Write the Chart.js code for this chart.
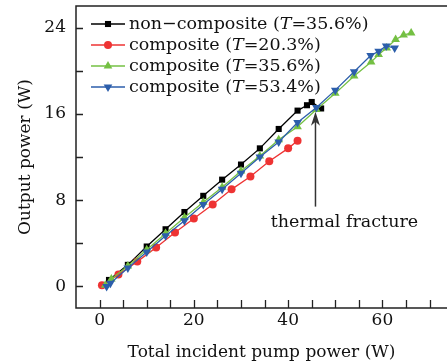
<!DOCTYPE html>
<html>
<head>
<meta charset="utf-8">
<script src="https://cdn.jsdelivr.net/npm/chart.js@4/dist/chart.umd.min.js"></script>
<style>
body { margin: 0; background: #fff; }
</style>
</head>
<body>
<canvas id="myChart" width="447" height="364"></canvas>
<script>
// pump power (W) / output power (W)
const xNonComp = [2, 6, 10, 14, 18, 22, 26, 30, 34, 38, 42, 44, 45, 47];
const yNonComp = [0.6, 2.0, 3.7, 5.3, 6.9, 8.4, 9.9, 11.3, 12.8, 14.6, 16.3, 16.8, 17.1, 16.5];

const xComp20 = [0.5, 4, 8, 12, 16, 20, 24, 28, 32, 36, 40, 42];
const yComp20 = [0.1, 1.1, 2.3, 3.6, 5.0, 6.3, 7.6, 9.0, 10.2, 11.6, 12.8, 13.5];

const xComp35 = [1.2, 2.5, 6, 10, 14, 18, 22, 26, 30, 34, 38, 42, 46, 50, 54, 57.6, 59.2, 60.9, 62.8, 64.5, 66.1];
const yComp35 = [0.1, 0.7, 1.9, 3.4, 4.9, 6.4, 7.8, 9.2, 10.7, 12.1, 13.6, 14.8, 16.4, 17.9, 19.5, 20.8, 21.5, 22.1, 22.9, 23.3, 23.5];

const xComp53 = [1.5, 2.3, 6, 10, 14, 18, 22, 26, 30, 34, 38, 42, 46, 50, 54, 57.5, 59.2, 60.8, 62.6];
const yComp53 = [0.0, 0.3, 1.7, 3.2, 4.7, 6.1, 7.6, 9.0, 10.5, 12.0, 13.4, 15.2, 16.6, 18.2, 19.9, 21.4, 21.8, 22.3, 22.1];

const seriesNames = ["non\u2212composite", "composite", "composite", "composite"];
const seriesT = ["35.6%", "20.3%", "35.6%", "53.4%"];

const xTicks = [0, 5, 10, 15, 20, 25, 30, 35, 40, 45, 50, 55, 60, 65, 70];
const yTicks = [0, 4, 8, 12, 16, 20, 24];

// arrow: x, bottom y, tip y (data units)
const arrowAt = [45.8, 7.4, 16.2];
const noteText = "thermal fracture";

const FONT = "'DejaVu Serif', serif";
const colors = ["#000000", "#ee3333", "#74c043", "#2c5eab"];
const shapes = ["rect", "circle", "triangle", "triangle"];

function pts(xs, ys) {
  return xs.map((x, i) => ({ x: x, y: ys[i] }));
}

const chartData = {
  datasets: [
    { data: pts(xNonComp, yNonComp), order: 4, pointRadius: 4.3 },
    { data: pts(xComp20, yComp20), order: 3, pointRadius: 4 },
    { data: pts(xComp35, yComp35), order: 2, pointRadius: 5 },
    { data: pts(xComp53, yComp53), order: 1, pointRadius: 5, pointRotation: 180 },
  ].map((d, i) => Object.assign({
    label: seriesNames[i] + " (T=" + seriesT[i] + ")",
    borderColor: colors[i],
    backgroundColor: colors[i],
    pointBackgroundColor: colors[i],
    pointBorderColor: colors[i],
    pointBorderWidth: 0,
    pointStyle: shapes[i],
    borderWidth: 1.3,
    showLine: true,
    tension: 0,
  }, d)),
};

// frame, inward ticks, x labels, legend and the annotation
const extras = {
  id: "extras",
  afterDraw(chart) {
    const c = chart.ctx;
    const a = chart.chartArea;
    const xs = chart.scales.x, ys = chart.scales.y;
    c.save();
    c.strokeStyle = "#222";
    c.lineWidth = 1.5;
    c.beginPath();
    c.moveTo(a.right + 2, a.top);
    c.lineTo(a.left, a.top);
    c.lineTo(a.left, a.bottom);
    c.lineTo(a.right + 2, a.bottom);
    c.stroke();

    c.lineWidth = 1.3;
    c.beginPath();
    xTicks.forEach(v => {
      const px = Math.round(xs.getPixelForValue(v)) + 0.5;
      c.moveTo(px, a.bottom);
      c.lineTo(px, a.bottom - 8);
    });
    yTicks.forEach(v => {
      const py = Math.round(ys.getPixelForValue(v)) + 0.5;
      c.moveTo(a.left, py);
      c.lineTo(a.left + 7, py);
    });
    c.stroke();

    c.fillStyle = "#111";
    c.font = "17px " + FONT;
    c.textAlign = "center";
    c.textBaseline = "middle";
    xTicks.filter(v => v % 20 === 0).forEach(v => {
      c.fillText(String(v), xs.getPixelForValue(v), a.bottom + 13);
    });

    // legend
    c.textAlign = "left";
    chartData.datasets.forEach((d, i) => {
      const y = 24 + i * 21;
      c.strokeStyle = colors[i];
      c.lineWidth = 1.3;
      c.beginPath();
      c.moveTo(91, y);
      c.lineTo(125, y);
      c.stroke();
      c.fillStyle = colors[i];
      Chart.helpers.drawPoint(c, {
        pointStyle: shapes[i],
        radius: d.pointRadius,
        rotation: d.pointRotation || 0,
        borderWidth: 0,
      }, 108, y);
      c.fillStyle = "#111";
      let x = 129;
      c.font = "17.5px " + FONT;
      const pre = seriesNames[i] + " (";
      c.fillText(pre, x, y);
      x += c.measureText(pre).width;
      c.font = "italic 17.5px " + FONT;
      c.fillText("T", x, y);
      x += c.measureText("T").width;
      c.font = "17.5px " + FONT;
      c.fillText("=" + seriesT[i] + ")", x, y);
    });

    // thermal fracture arrow
    const ax = xs.getPixelForValue(arrowAt[0]);
    const ay0 = ys.getPixelForValue(arrowAt[1]);
    const ay1 = ys.getPixelForValue(arrowAt[2]);
    c.strokeStyle = "#333";
    c.fillStyle = "#333";
    c.lineWidth = 1.5;
    c.beginPath();
    c.moveTo(ax, ay0);
    c.lineTo(ax, ay1 + 8);
    c.stroke();
    c.beginPath();
    c.moveTo(ax, ay1);
    c.lineTo(ax - 4.5, ay1 + 14);
    c.lineTo(ax, ay1 + 10);
    c.lineTo(ax + 4.5, ay1 + 14);
    c.closePath();
    c.fill();
    c.fillStyle = "#111";
    c.font = "17.5px " + FONT;
    c.textAlign = "center";
    c.fillText(noteText, ax + 29, ay0 + 16);
    c.restore();
  },
};

const ctx = document.getElementById("myChart").getContext("2d");
const chart = new Chart(ctx, {
  type: "line",
  data: chartData,
  options: {
    responsive: false,
    animation: false,
    layout: { autoPadding: false, padding: { top: 6, right: 0, left: 0, bottom: 0 } },
    plugins: { legend: { display: false }, tooltip: { enabled: false } },
    scales: {
      x: {
        type: "linear",
        min: -5,
        max: 73.7,
        grid: { display: false, drawTicks: false },
        border: { display: false },
        afterBuildTicks: s => { s.ticks = xTicks.map(v => ({ value: v })); },
        afterFit: s => { s.height = 56; s.paddingLeft = 0; s.paddingRight = 0; },
        ticks: { display: false },
        title: {
          display: true,
          text: "Total incident pump power (W)",
          color: "#111",
          font: { family: FONT, size: 17 },
          padding: { top: 0, bottom: 1 },
        },
      },
      y: {
        min: -2,
        max: 26,
        grid: { display: false, drawTicks: false },
        border: { display: false },
        afterBuildTicks: s => { s.ticks = yTicks.map(v => ({ value: v })); },
        afterFit: s => { s.width = 76; s.paddingTop = 0; s.paddingBottom = 0; },
        ticks: {
          padding: 10,
          color: "#111",
          font: { family: FONT, size: 17 },
          callback: v => (v % 8 === 0 ? String(v) : ""),
        },
        title: {
          display: true,
          text: "Output power (W)",
          color: "#111",
          font: { family: FONT, size: 17 },
          padding: { top: 15, bottom: 0 },
        },
      },
    },
  },
  plugins: [extras],
});
</script>
</body>
</html>
